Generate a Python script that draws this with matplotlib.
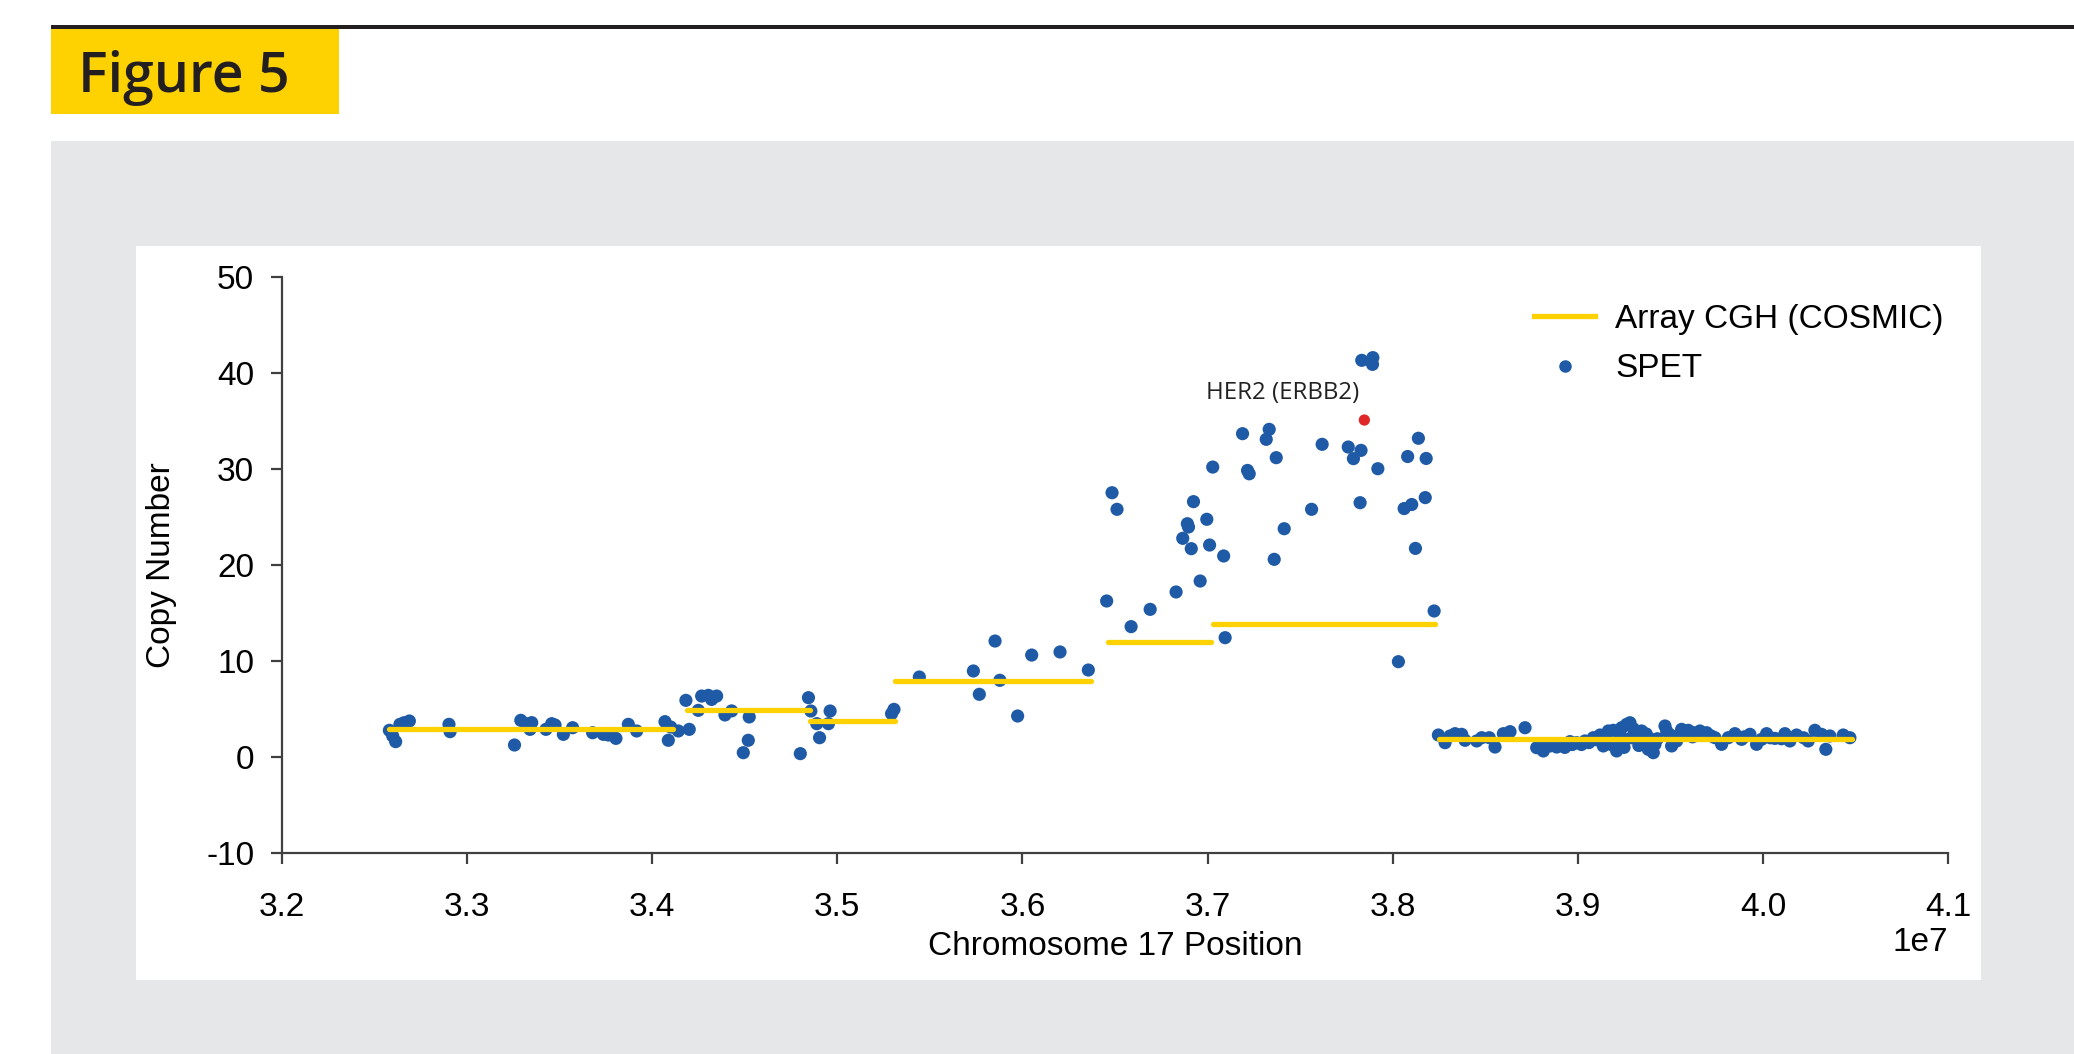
import matplotlib
matplotlib.use("Agg")
import matplotlib.pyplot as plt
from matplotlib.patches import Rectangle
from matplotlib.lines import Line2D
from matplotlib.ticker import MultipleLocator

# Array CGH (COSMIC) segments, positions in Mb
seg_start = [32.58, 34.19, 34.85, 35.31, 36.46, 37.03, 38.25]
seg_end = [34.11, 34.85, 35.31, 36.37, 37.02, 38.23, 40.48]
seg_cn = [2.9, 4.86, 3.75, 7.9, 12.0, 13.9, 1.9]

# SPET copy number calls, positions in Mb
spet_pos = [
    32.580, 32.598, 32.614, 32.637, 32.659, 32.688, 32.902, 32.908, 33.256, 33.290,
    33.319, 33.340, 33.349, 33.426, 33.457, 33.475, 33.520, 33.570, 33.678, 33.736,
    33.763, 33.804, 33.871, 33.916, 34.069, 34.087, 34.100, 34.141, 34.182, 34.200,
    34.249, 34.267, 34.303, 34.321, 34.348, 34.393, 34.429, 34.492, 34.519, 34.524,
    34.800, 34.844, 34.857, 34.889, 34.904, 34.952, 34.961, 35.293, 35.306, 35.443,
    35.735, 35.767, 35.852, 35.878, 35.974, 36.050, 36.203, 36.356, 36.455, 36.587,
    36.690, 36.830, 36.960, 37.095, 36.912, 37.011, 37.087,
    36.484, 36.511, 36.924, 36.891, 36.897, 36.866, 36.996, 37.028, 37.189, 37.333,
    37.317, 37.216, 37.225, 37.371, 37.414, 37.360, 37.562, 37.619, 37.760, 37.788,
    37.829, 37.920, 37.824, 37.833, 37.893, 37.891, 38.031, 38.139, 38.081, 38.181,
    38.176, 38.103, 38.062, 38.123, 38.224,
    38.247, 38.283, 38.310, 38.337, 38.373, 38.391, 38.454, 38.481, 38.522, 38.553,
    38.598, 38.634, 38.715, 38.778, 38.814, 38.850, 38.886, 38.922, 38.958, 38.994,
    39.039, 39.084, 39.120, 39.138, 39.165, 39.192, 39.210, 39.219, 39.237, 39.264,
    39.282, 39.300, 39.318, 39.345, 39.363, 39.381, 39.408, 39.417, 39.471, 39.480,
    39.507, 39.534, 39.561, 39.597, 39.624, 39.660, 39.696, 39.741, 39.777, 39.813,
    39.849, 39.885, 39.930, 39.966, 39.993, 40.020, 40.065, 40.119, 40.146, 40.182,
    40.245, 40.281, 40.317, 40.340, 40.362, 40.434, 40.470,
    38.800, 38.870, 38.930, 38.970, 39.020, 39.060, 39.100, 39.150, 39.180, 39.230,
    39.250, 39.290, 39.330, 39.370, 39.390, 39.430, 39.500, 39.550, 39.620, 39.720,
    39.900, 40.040, 40.100, 40.220,
]
spet_cn = [
    2.78, 2.19, 1.60, 3.40, 3.57, 3.75, 3.40, 2.64, 1.25, 3.82,
    3.47, 2.88, 3.58, 2.88, 3.47, 3.33, 2.36, 3.05, 2.53, 2.36,
    2.29, 1.94, 3.40, 2.71, 3.68, 1.74, 3.12, 2.71, 5.90, 2.88,
    4.86, 6.35, 6.42, 6.00, 6.35, 4.38, 4.80, 0.45, 1.74, 4.17,
    0.35, 6.18, 4.79, 3.47, 2.01, 3.47, 4.79, 4.51, 4.96, 8.33,
    8.96, 6.53, 12.08, 7.99, 4.27, 10.62, 10.94, 9.06, 16.25, 13.58,
    15.38, 17.19, 18.33, 12.43, 21.70, 22.08, 20.94,
    27.53, 25.80, 26.60, 24.30, 23.96, 22.78, 24.76, 30.20, 33.68, 34.13,
    33.09, 29.85, 29.50, 31.18, 23.78, 20.59, 25.80, 32.57, 32.29, 31.08,
    31.94, 30.03, 26.49, 41.32, 41.60, 40.90, 9.93, 33.20, 31.30, 31.10,
    27.02, 26.30, 25.88, 21.73, 15.21,
    2.29, 1.49, 2.19, 2.43, 2.36, 1.74, 1.67, 2.01, 2.01, 1.04,
    2.43, 2.64, 3.05, 0.97, 0.63, 1.15, 1.04, 1.25, 1.60, 1.49,
    1.67, 2.01, 2.29, 1.15, 2.71, 2.78, 0.63, 1.67, 3.05, 3.40,
    3.57, 2.95, 2.36, 2.71, 1.67, 0.80, 0.45, 1.32, 3.23, 2.71,
    1.15, 1.67, 2.88, 2.78, 2.53, 2.71, 2.53, 2.01, 1.32, 2.01,
    2.43, 1.84, 2.36, 1.32, 1.84, 2.43, 1.94, 2.43, 1.67, 2.29,
    1.67, 2.78, 2.36, 0.80, 2.19, 2.29, 2.01,
    1.20, 1.40, 1.00, 1.30, 1.30, 1.50, 1.80, 2.00, 1.30, 2.30,
    1.00, 2.00, 1.20, 2.40, 1.90, 1.90, 2.30, 2.20, 2.10, 2.20,
    2.10, 2.00, 1.90, 2.00,
]

her2_pos = 37.847
her2_cn = 35.1
her2_label = "HER2 (ERBB2)"

YELLOW = "#fed100"
BLUE = "#1f5aa6"
RED = "#e02828"
GREY_BG = "#e6e7e8"
AXIS = "#404040"
FS = 24

plt.rcParams["font.family"] = ["Liberation Sans", "DejaVu Sans"]
plt.rcParams["axes.unicode_minus"] = False

W, H = 2074, 1054


def fx(px):
    return px / W


def fy(py):
    return 1 - py / H


fig = plt.figure(figsize=(W / 100, H / 100), dpi=100)
fig.patch.set_facecolor("white")

# page furniture: rule, label box, grey panel, white chart card
fig.add_artist(Rectangle((fx(51), fy(29)), fx(2074) - fx(51), 4 / H,
                         transform=fig.transFigure, color="#231f20", lw=0, zorder=-5))
fig.add_artist(Rectangle((fx(51), fy(114)), 288 / W, 85 / H,
                         transform=fig.transFigure, color=YELLOW, lw=0, zorder=-5))
fig.text(fx(78), fy(92), "Figure 5", fontsize=40, fontweight="semibold",
         family=["Open Sans", "DejaVu Sans"], color="#231f20", va="baseline", ha="left")
fig.add_artist(Rectangle((fx(51), 0), fx(2074) - fx(51), (1054 - 141) / H,
                         transform=fig.transFigure, color=GREY_BG, lw=0, zorder=-10))
fig.add_artist(Rectangle((fx(136), fy(980)), (1981 - 136) / W, (980 - 246) / H,
                         transform=fig.transFigure, color="white", lw=0, zorder=-9))

ax = fig.add_axes([fx(282), fy(853), (1948 - 282) / W, (853 - 277) / H])
ax.patch.set_alpha(0)

mb = 1e6
ax.scatter([p * mb for p in spet_pos], spet_cn, s=90, color=BLUE,
           edgecolors="none", zorder=2)
ax.hlines(seg_cn, [s * mb for s in seg_start], [e * mb for e in seg_end],
          colors=YELLOW, lw=3.8, zorder=3, capstyle="round")
ax.scatter([her2_pos * mb], [her2_cn], s=66, color=RED, edgecolors="none", zorder=4)
ax.text(37.408 * mb, 37.3, her2_label, ha="center", va="baseline", fontsize=17.3,
        family=["Open Sans", "DejaVu Sans"], color="#222222")

ax.set_xlim(32e6, 41e6)
ax.set_ylim(-10, 50)
ax.xaxis.set_major_locator(MultipleLocator(1e6))
ax.yaxis.set_major_locator(MultipleLocator(10))

for side in ("top", "right"):
    ax.spines[side].set_visible(False)
for side in ("left", "bottom"):
    ax.spines[side].set_color(AXIS)
    ax.spines[side].set_linewidth(1.6)

ax.tick_params(axis="both", direction="out", length=8, width=1.6, color=AXIS,
               labelsize=FS, labelcolor="black")
ax.tick_params(axis="x", pad=20)
ax.tick_params(axis="y", pad=12)
ax.xaxis.get_offset_text().set_fontsize(FS)

ax.set_xlabel("Chromosome 17 Position", fontsize=FS, labelpad=6)
ax.set_ylabel("Copy Number", fontsize=FS, labelpad=21)

handles = [
    Line2D([], [], color=YELLOW, lw=3.8, label="Array CGH (COSMIC)"),
    Line2D([], [], color=BLUE, marker="o", ls="", ms=8, label="SPET"),
]
ax.legend(handles=handles, loc="upper left", frameon=False, fontsize=FS,
          bbox_to_anchor=(fx(1534), fy(304)), bbox_transform=fig.transFigure,
          borderpad=0, borderaxespad=0, handlelength=1.84, handletextpad=0.6,
          labelspacing=0.55)

fig.savefig("out.png", dpi=100)
